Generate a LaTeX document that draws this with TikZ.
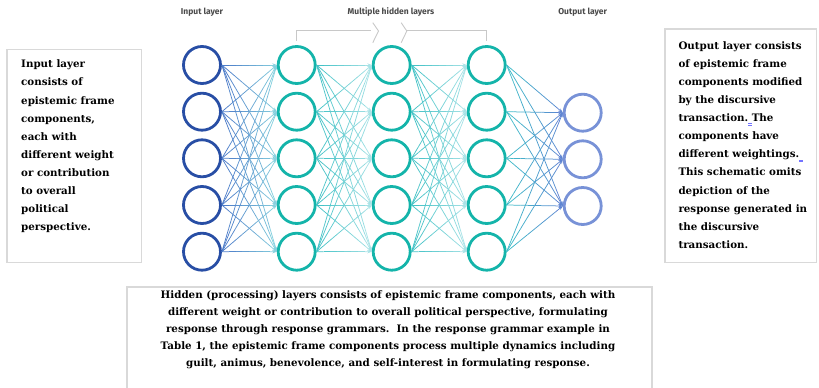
\documentclass[tikz,border=0pt]{standalone}
\usepackage{fontspec}
\setmainfont{DejaVu Serif}
\newfontfamily\lblf{Fira Sans}
\usetikzlibrary{calc,arrows.meta}
\definecolor{cIn}{HTML}{284EA5}
\definecolor{cHid}{HTML}{14B4AA}
\definecolor{cOut}{HTML}{7892D7}
\definecolor{eIAa}{HTML}{4A78C8}
\definecolor{eIAb}{HTML}{86D0DE}
\definecolor{eHHa}{HTML}{3EC0C4}
\definecolor{eHHb}{HTML}{A8E2E6}
\definecolor{eHOa}{HTML}{3DBFC8}
\definecolor{eHOb}{HTML}{5E84D2}
\definecolor{boxgray}{HTML}{D9D9D9}
\definecolor{lblgray}{HTML}{4A4A4A}
\definecolor{brk}{HTML}{C8C8C8}
\newcommand\gradedge[4]{%
  \foreach \k in {0,...,6}{%
    \pgfmathsetmacro\ta{\k/8}%
    \pgfmathsetmacro\tb{(\k+1)/8}%
    \pgfmathtruncatemacro\pc{100*(\k+0.5)/8}%
    \draw[edgeln, draw={#4!\pc!#3}] ($(#1.east)!\ta!(#2.west)$) -- ($(#1.east)!\tb!(#2.west)$);
  }%
  \draw[edgeln, draw=#4, -{Stealth[length=4.5pt,width=3.2pt]}] ($(#1.east)!0.875!(#2.west)$) -- (#2.west);
}
\newcommand\mk{\rlap{\raisebox{-2.2pt}{\color{blue!55}\rule{4pt}{0.45pt}}}\rlap{\raisebox{-3.4pt}{\color{blue!55}\rule{4pt}{0.45pt}}}}
\begin{document}
\begin{tikzpicture}[x=1pt,y=-1pt,
  neuron/.style={circle, line width=2.8pt, minimum size=37pt, inner sep=0pt},
  edgeln/.style={line width=0.75pt},
  txtbox/.style={draw=boxgray, line width=1.1pt},
  body/.style={font=\bfseries\fontsize{10.3}{18.1}\selectfont, inner sep=0pt, align=left, anchor=north west},
  lbl/.style={font=\lblf\bfseries\fontsize{8.5}{9}\selectfont, text=lblgray, inner sep=0pt}
]
\useasboundingbox (0,0) rectangle (819,388);
% layer nodes
\foreach \i/\y in {1/65,2/111.7,3/158.3,4/205,5/251.7}{
  \node[neuron, draw=cIn] (i\i) at (202,\y) {};
  \node[neuron, draw=cHid] (a\i) at (296.7,\y) {};
  \node[neuron, draw=cHid] (b\i) at (391.7,\y) {};
  \node[neuron, draw=cHid] (c\i) at (486.7,\y) {};
}
\foreach \i/\y in {1/112.7,2/159.3,3/206}{
  \node[neuron, draw=cOut] (o\i) at (582.7,\y) {};
}
% connectors
\foreach \s in {1,...,5}{\foreach \t in {1,...,5}{\gradedge{i\s}{a\t}{eIAa}{eIAb}}}
\foreach \s in {1,...,5}{\foreach \t in {1,...,5}{\gradedge{a\s}{b\t}{eHHa}{eHHb}}}
\foreach \s in {1,...,5}{\foreach \t in {1,...,5}{\gradedge{b\s}{c\t}{eHHa}{eHHb}}}
\foreach \s in {1,...,5}{\foreach \t in {1,2,3}{\gradedge{c\s}{o\t}{eHOa}{eHOb}}}
% top labels
\node[lbl] (linput) at (202,12) {Input layer};
\node[lbl] (lhidden) at (391,12) {Multiple hidden layers};
\node[lbl] (loutput) at (582.7,12) {Output layer};
% bracket
\draw[brk, line width=0.9pt] (296.7,40.7) -- (296.7,30.7) -- (370.5,30.7);
\draw[brk, line width=0.9pt] (372.8,22.7) -- (378.5,31) -- (372.8,42.7);
\draw[brk, line width=0.9pt] (401.2,22.7) -- (406.8,31) -- (401.2,42.7);
\draw[brk, line width=0.9pt] (406.8,30.7) -- (486.7,30.7) -- (486.7,40.7);
% text boxes
\draw[txtbox] (7,49.3) rectangle (141.7,262.7);
\node[body] (tleft) at (21,59.8) {Input layer\\consists of\\epistemic frame\\components,\\each with\\different weight\\or contribution\\to overall\\political\\perspective.};
\draw[txtbox] (665,29) rectangle (816.7,262.7);
\node[body] (tright) at (678.3,41.2) {Output layer consists\\of epistemic frame\\components modified\\by the discursive\\transaction.\mk\ The\\components have\\different weightings.\mk\\This schematic omits\\depiction of the\\response generated in\\the discursive\\transaction.};
\draw[txtbox] (127,392) -- (127,287) -- (652,287) -- (652,392);
\node[body, align=center, anchor=north, font=\bfseries\fontsize{10.3}{17}\selectfont] (tbottom) at (388,290.8) {Hidden (processing) layers consists of epistemic frame components, each with\\different weight or contribution to overall political perspective, formulating\\response through response grammars.\ \ In the response grammar example in\\Table 1, the epistemic frame components process multiple dynamics including\\guilt, animus, benevolence, and self-interest in formulating response.};
\end{tikzpicture}
\end{document}
